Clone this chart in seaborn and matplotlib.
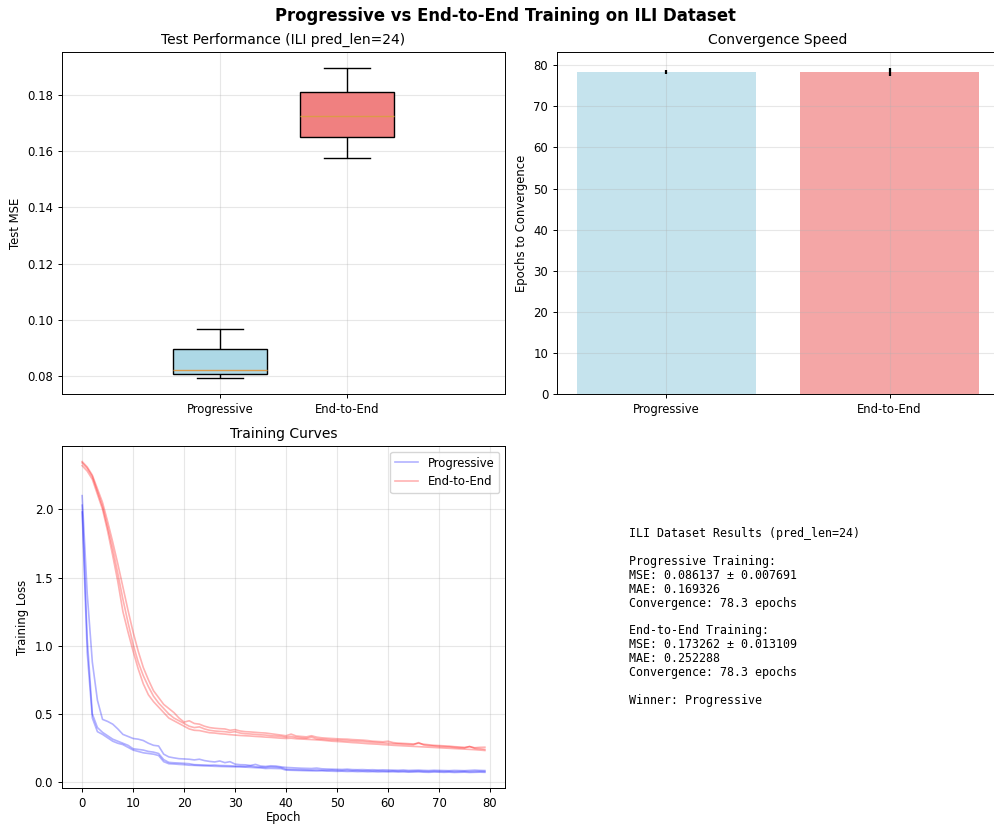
"""
ILI 数据集上渐进式训练与端到端训练的对比图
"""

import numpy as np
import pandas as pd
import matplotlib
matplotlib.use('Agg')
import matplotlib.pyplot as plt
from matplotlib.lines import Line2D
import seaborn as sns

plt.rcParams['font.family'] = ['DejaVu Sans']
plt.rcParams['font.size'] = 8.4
plt.rcParams['axes.titlesize'] = 10
plt.rcParams['axes.labelsize'] = 8.4
plt.rcParams['xtick.labelsize'] = 8.4
plt.rcParams['ytick.labelsize'] = 8.4
plt.rcParams['axes.linewidth'] = 0.7
plt.rcParams['xtick.major.size'] = 2.8
plt.rcParams['ytick.major.size'] = 2.8
plt.rcParams['xtick.major.width'] = 0.7
plt.rcParams['ytick.major.width'] = 0.7

# ---------------------------------------------------------------------------
# 数据
# ---------------------------------------------------------------------------
methods = ['Progressive', 'End-to-End']
colors = {'Progressive': 'lightblue', 'End-to-End': 'lightcoral'}
line_colors = {'Progressive': 'blue', 'End-to-End': 'red'}

# 三次运行的测试 MSE
prog_mse = [0.0792, 0.0822, 0.0969]
e2e_mse = [0.1575, 0.1725, 0.1897]

# 三次运行的收敛轮数
prog_epochs = [78, 78, 79]
e2e_epochs = [77, 79, 79]

# 训练损失曲线（每条 80 个 epoch）
prog_run1 = [2.10, 1.38, 0.88, 0.60, 0.46, 0.445, 0.425, 0.39, 0.35, 0.335,
             0.32, 0.315, 0.305, 0.285, 0.27, 0.265, 0.205, 0.185, 0.178, 0.172,
             0.170, 0.168, 0.163, 0.168, 0.158, 0.152, 0.148, 0.155, 0.143, 0.150,
             0.132, 0.128, 0.127, 0.122, 0.130, 0.118, 0.115, 0.120, 0.118, 0.112,
             0.108, 0.106, 0.104, 0.102, 0.101, 0.100, 0.103, 0.098, 0.096, 0.095,
             0.094, 0.093, 0.095, 0.092, 0.091, 0.092, 0.090, 0.091, 0.089, 0.090,
             0.089, 0.088, 0.087, 0.089, 0.086, 0.087, 0.088, 0.086, 0.085, 0.087,
             0.086, 0.085, 0.084, 0.086, 0.085, 0.084, 0.086, 0.088, 0.086, 0.085]
prog_run2 = [2.03, 1.05, 0.50, 0.40, 0.365, 0.34, 0.315, 0.30, 0.285, 0.27,
             0.245, 0.24, 0.235, 0.225, 0.22, 0.21, 0.165, 0.145, 0.142, 0.14,
             0.138, 0.135, 0.128, 0.127, 0.126, 0.124, 0.125, 0.122, 0.121, 0.12,
             0.118, 0.117, 0.115, 0.118, 0.113, 0.11, 0.108, 0.112, 0.11, 0.107,
             0.095, 0.093, 0.092, 0.091, 0.09, 0.089, 0.09, 0.088, 0.087, 0.088,
             0.086, 0.085, 0.086, 0.084, 0.085, 0.083, 0.084, 0.082, 0.083, 0.082,
             0.081, 0.082, 0.080, 0.081, 0.079, 0.080, 0.081, 0.079, 0.078, 0.080,
             0.079, 0.078, 0.079, 0.077, 0.078, 0.079, 0.077, 0.078, 0.079, 0.078]
prog_run3 = [1.98, 0.95, 0.47, 0.37, 0.35, 0.325, 0.30, 0.285, 0.275, 0.255,
             0.235, 0.225, 0.215, 0.21, 0.205, 0.195, 0.15, 0.135, 0.133, 0.13,
             0.128, 0.124, 0.123, 0.121, 0.119, 0.118, 0.116, 0.115, 0.114, 0.113,
             0.112, 0.111, 0.11, 0.108, 0.106, 0.104, 0.100, 0.101, 0.100, 0.099,
             0.088, 0.087, 0.086, 0.085, 0.084, 0.083, 0.082, 0.083, 0.081, 0.080,
             0.079, 0.080, 0.078, 0.079, 0.077, 0.078, 0.076, 0.077, 0.075, 0.076,
             0.075, 0.076, 0.074, 0.075, 0.073, 0.074, 0.075, 0.073, 0.072, 0.074,
             0.073, 0.072, 0.073, 0.071, 0.072, 0.073, 0.071, 0.072, 0.073, 0.072]
e2e_run1 = [2.35, 2.31, 2.25, 2.15, 2.05, 1.91, 1.76, 1.60, 1.43, 1.26,
            1.10, 0.96, 0.84, 0.75, 0.67, 0.62, 0.57, 0.54, 0.51, 0.47,
            0.44, 0.45, 0.43, 0.425, 0.41, 0.40, 0.395, 0.392, 0.39, 0.38,
            0.385, 0.375, 0.37, 0.368, 0.365, 0.362, 0.36, 0.355, 0.35, 0.345,
            0.34, 0.352, 0.338, 0.335, 0.332, 0.34, 0.33, 0.325, 0.322, 0.32,
            0.318, 0.316, 0.315, 0.312, 0.31, 0.308, 0.305, 0.30, 0.298, 0.296,
            0.30, 0.29, 0.286, 0.284, 0.282, 0.28, 0.285, 0.278, 0.274, 0.27,
            0.268, 0.266, 0.264, 0.26, 0.258, 0.255, 0.26, 0.252, 0.255, 0.256]
e2e_run2 = [2.34, 2.30, 2.24, 2.13, 2.02, 1.87, 1.71, 1.53, 1.34, 1.17,
            1.01, 0.88, 0.78, 0.70, 0.63, 0.58, 0.54, 0.50, 0.47, 0.45,
            0.43, 0.41, 0.40, 0.405, 0.39, 0.38, 0.375, 0.372, 0.37, 0.365,
            0.37, 0.36, 0.355, 0.353, 0.35, 0.347, 0.345, 0.34, 0.338, 0.335,
            0.33, 0.335, 0.328, 0.325, 0.322, 0.33, 0.318, 0.315, 0.312, 0.31,
            0.308, 0.306, 0.304, 0.302, 0.30, 0.298, 0.295, 0.292, 0.29, 0.288,
            0.285, 0.282, 0.28, 0.278, 0.276, 0.274, 0.29, 0.272, 0.268, 0.265,
            0.262, 0.26, 0.258, 0.255, 0.252, 0.25, 0.262, 0.248, 0.245, 0.24]
e2e_run3 = [2.32, 2.28, 2.22, 2.11, 2.00, 1.84, 1.66, 1.47, 1.25, 1.10,
            0.96, 0.83, 0.72, 0.64, 0.59, 0.55, 0.51, 0.47, 0.45, 0.43,
            0.41, 0.39, 0.38, 0.378, 0.37, 0.362, 0.36, 0.355, 0.352, 0.348,
            0.345, 0.342, 0.34, 0.338, 0.335, 0.333, 0.33, 0.328, 0.325, 0.322,
            0.32, 0.322, 0.318, 0.316, 0.314, 0.312, 0.31, 0.307, 0.304, 0.30,
            0.298, 0.296, 0.293, 0.29, 0.288, 0.285, 0.282, 0.28, 0.278, 0.275,
            0.273, 0.27, 0.268, 0.266, 0.264, 0.262, 0.26, 0.258, 0.256, 0.254,
            0.252, 0.25, 0.248, 0.246, 0.244, 0.242, 0.24, 0.238, 0.235, 0.232]

summary_text = """ILI Dataset Results (pred_len=24)

Progressive Training:
MSE: 0.086137 ± 0.007691
MAE: 0.169326
Convergence: 78.3 epochs

End-to-End Training:
MSE: 0.173262 ± 0.013109
MAE: 0.252288
Convergence: 78.3 epochs

Winner: Progressive"""

# 整理成长表
mse_df = pd.DataFrame({
    'Method': ['Progressive'] * len(prog_mse) + ['End-to-End'] * len(e2e_mse),
    'MSE': prog_mse + e2e_mse,
})
conv_df = pd.DataFrame({
    'Method': methods,
    'Epochs': [np.mean(prog_epochs), np.mean(e2e_epochs)],
    'Std': [np.std(prog_epochs), np.std(e2e_epochs)],
})
curve_rows = []
for method, runs in [('Progressive', [prog_run1, prog_run2, prog_run3]),
                     ('End-to-End', [e2e_run1, e2e_run2, e2e_run3])]:
    for r, losses in enumerate(runs):
        for ep, loss in enumerate(losses):
            curve_rows.append((method, r, ep, loss))
curve_df = pd.DataFrame(curve_rows, columns=['Method', 'Run', 'Epoch', 'Loss'])

# ---------------------------------------------------------------------------
# 画布
# ---------------------------------------------------------------------------
W, H = 995, 824
fig = plt.figure(figsize=(W / 100, H / 100), dpi=100)


def rect(left, top, right, bottom):
    return [left / W, 1 - bottom / H, (right - left) / W, (bottom - top) / H]


ax1 = fig.add_axes(rect(62, 52, 505, 394))
ax2 = fig.add_axes(rect(557, 52, 999, 394))
ax3 = fig.add_axes(rect(62, 446, 505, 788))

# 1. 测试 MSE 箱线图
sns.boxplot(data=mse_df, x='Method', y='MSE', hue='Method', palette=colors,
            order=methods, saturation=1, width=0.74, linecolor='black',
            linewidth=1, medianprops=dict(color='#dc9a48', linewidth=1),
            legend=False, ax=ax1)
ax1.set_xlim(-1.244, 2.244)
ax1.set_xlabel('')
ax1.set_ylabel('Test MSE')
ax1.set_title('Test Performance (ILI pred_len=24)')
ax1.grid(True, alpha=0.3)

# 2. 收敛速度柱状图
sns.barplot(data=conv_df, x='Method', y='Epochs', hue='Method',
            palette=colors, order=methods, saturation=1, alpha=0.7,
            width=0.8, errorbar=None, legend=False, ax=ax2)
ax2.errorbar(range(len(methods)), conv_df['Epochs'], yerr=conv_df['Std'],
             fmt='none', ecolor='black', elinewidth=1.6, capsize=0)
ax2.set_xlim(-0.49, 1.49)
ax2.set_xlabel('')
ax2.set_ylabel('Epochs to Convergence')
ax2.set_title('Convergence Speed')
ax2.grid(True, alpha=0.3)

# 3. 训练曲线
sns.lineplot(data=curve_df, x='Epoch', y='Loss', hue='Method', units='Run',
             estimator=None, palette=line_colors, alpha=0.3, linewidth=1.2,
             legend=False, ax=ax3)
ax3.set_xlabel('Epoch', labelpad=1)
ax3.set_ylabel('Training Loss')
ax3.set_title('Training Curves')
handles = [Line2D([0], [0], color=line_colors[m], alpha=0.3, linewidth=1.2)
           for m in methods]
ax3.legend(handles, methods, loc='upper right', fontsize=8.4)
ax3.grid(True, alpha=0.3)

# 4. 文字汇总
fig.text(629 / W, 1 - 617 / H, summary_text, fontsize=8.4,
         family='DejaVu Sans Mono', va='center', ha='left', linespacing=1.09)

fig.suptitle('Progressive vs End-to-End Training on ILI Dataset',
             fontsize=11.9, fontweight='bold', x=505 / W, y=1 - 16 / H,
             va='center')

plt.savefig('out.png', dpi=100)
plt.close()
